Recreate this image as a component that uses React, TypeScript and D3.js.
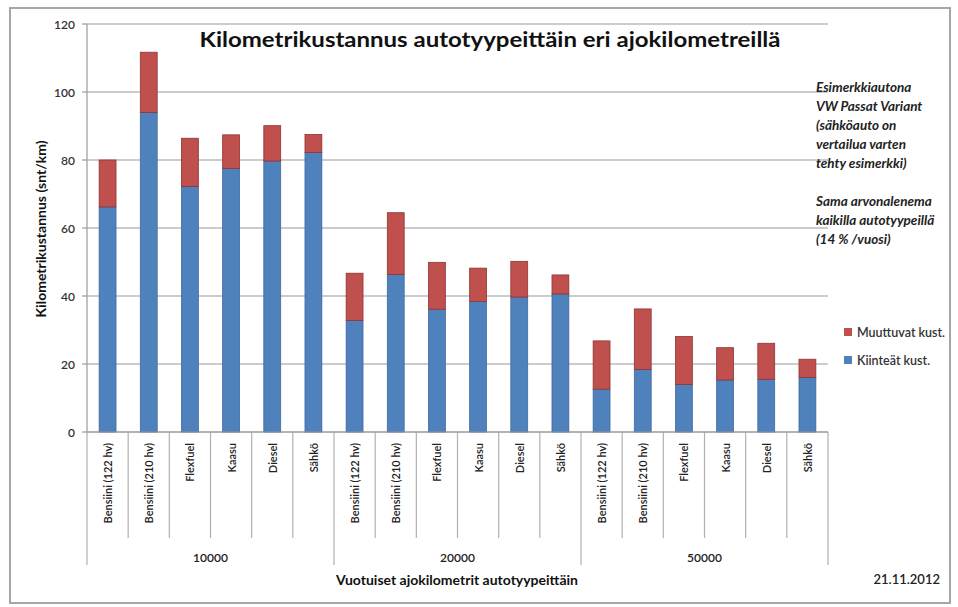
import React from "react";
import * as d3 from "d3";

const carTypes = ["Bensiini (122 hv)", "Bensiini (210 hv)", "Flexfuel", "Kaasu", "Diesel", "Sähkö"];
const groups = ["10000", "20000", "50000"];
// Kiinteät kust. (fixed costs), per group in car type order
const fixed10000 = [66.2, 94, 72.2, 77.5, 79.7, 82.2];
const fixed20000 = [32.8, 46.3, 36.1, 38.4, 39.7, 40.6];
const fixed50000 = [12.6, 18.4, 14.0, 15.3, 15.5, 16.0];
// Muuttuvat kust. (variable costs)
const var10000 = [13.8, 17.7, 14.2, 9.9, 10.4, 5.3];
const var20000 = [13.9, 18.2, 13.8, 9.8, 10.5, 5.6];
const var50000 = [14.2, 17.8, 14.1, 9.5, 10.6, 5.4];
const yTicks = [0, 20, 40, 60, 80, 100, 120];
const seriesNames = ["Muuttuvat kust.", "Kiinteät kust."];
const noteLines1 = ["Esimerkkiautona", "VW Passat Variant", "(sähköauto on", "vertailua varten", "tehty esimerkki)"];
const noteLines2 = ["Sama arvonalenema", "kaikilla autotyypeillä", "(14 % /vuosi)"];
const title = "Kilometrikustannus autotyypeittäin eri ajokilometreillä";
const yTitle = "Kilometrikustannus (snt/km)";
const xTitle = "Vuotuiset ajokilometrit autotyypeittäin";
const dateText = "21.11.2012";

const BLUE = "#4F81BD";
const RED = "#C0504D";
const FONT = "Lato, 'Open Sans', sans-serif";

export default function App() {
  const W = 958, H = 607;
  const left = 87, right = 828, top = 24, bottom = 432;
  const fixedAll = [fixed10000, fixed20000, fixed50000];
  const varAll = [var10000, var20000, var50000];
  const rows = groups.flatMap((g, gi) =>
    carTypes.map((c, ci) => ({ key: `${g}-${ci}`, group: g, cat: c, fixed: fixedAll[gi][ci], variable: varAll[gi][ci] }))
  );
  const x = d3.scaleBand<string>().domain(rows.map(r => r.key)).range([left, right]).paddingInner(0).paddingOuter(0);
  const y = d3.scaleLinear().domain([0, 120]).range([bottom, top]);
  const bw = x.bandwidth() * 0.41;
  const step = x.step();

  return (
    <svg width={W} height={H} style={{ position: "absolute", left: 0, top: 0, background: "#fff" }} fontFamily={FONT}>
      <rect x={10} y={8} width={940} height={595} fill="#fff" stroke="#a6a6a6" strokeWidth={2} />
      {/* gridlines */}
      {yTicks.map(t => (
        <g key={t}>
          <line x1={left} x2={right} y1={y(t)} y2={y(t)} stroke="#9a9a9a" strokeWidth={1.2} />
          <line x1={left - 5} x2={left} y1={y(t)} y2={y(t)} stroke="#9a9a9a" strokeWidth={1.2} />
          <text x={75} y={y(t)} textAnchor="end" dominantBaseline="central" fontSize={12} fontWeight={600} fill="#333">{t}</text>
        </g>
      ))}
      <line x1={left} x2={left} y1={top} y2={bottom} stroke="#9a9a9a" strokeWidth={1.2} />
      {/* bars */}
      {rows.map(r => {
        const cx = (x(r.key) as number) + step / 2;
        return (
          <g key={r.key}>
            <rect x={cx - bw / 2} y={y(r.fixed)} width={bw} height={y(0) - y(r.fixed)} fill={BLUE} stroke="#3c6aa0" strokeWidth={0.8} />
            <rect x={cx - bw / 2} y={y(r.fixed + r.variable)} width={bw} height={y(r.fixed) - y(r.fixed + r.variable)} fill={RED} stroke="#8f3431" strokeWidth={0.8} />
          </g>
        );
      })}
      {/* x axis category separators */}
      {rows.map((r, i) => {
        const xx = x(r.key) as number;
        const isGroup = i % carTypes.length === 0;
        return <line key={"s" + r.key} x1={xx} x2={xx} y1={bottom} y2={isGroup ? 565 : 538} stroke="#b0b0b0" strokeWidth={1.2} />;
      })}
      <line x1={right} x2={right} y1={bottom} y2={565} stroke="#b0b0b0" strokeWidth={1.2} />
      <line x1={left} x2={right} y1={bottom} y2={bottom} stroke="#9a9a9a" strokeWidth={1.2} />
      {rows.map(r => {
        const cx = (x(r.key) as number) + step / 2;
        return (
          <text key={"l" + r.key} transform={`translate(${cx},443) rotate(-90)`} textAnchor="end" dominantBaseline="central" fontSize={11} fontWeight={600} fill="#222">{r.cat}</text>
        );
      })}
      {groups.map((g, gi) => {
        const x0 = x(rows[gi * 6].key) as number;
        const x1 = (x(rows[gi * 6 + 5].key) as number) + step;
        return <text key={g} x={(x0 + x1) / 2} y={557} textAnchor="middle" dominantBaseline="central" fontSize={12} fontWeight={600} fill="#222">{g}</text>;
      })}
      {/* titles */}
      <text x={490} y={38} textAnchor="middle" dominantBaseline="central" fontSize={21} fontWeight="bold" fill="#111" textLength={581} lengthAdjust="spacingAndGlyphs">{title}</text>
      <text transform="translate(40,229) rotate(-90)" textAnchor="middle" dominantBaseline="central" fontSize={14} fontWeight="bold" fill="#111">{yTitle}</text>
      <text x={457} y={579} textAnchor="middle" dominantBaseline="central" fontSize={14} fontWeight="bold" fill="#111">{xTitle}</text>
      <text x={940} y={579} textAnchor="end" dominantBaseline="central" fontSize={13} fontWeight={600} fill="#222">{dateText}</text>
      {/* notes */}
      {noteLines1.map((t, i) => (
        <text key={t} x={816} y={87 + i * 19} dominantBaseline="central" fontSize={13.5} fontStyle="italic" fontWeight="bold" fill="#222">{t}</text>
      ))}
      {noteLines2.map((t, i) => (
        <text key={t} x={816} y={201 + i * 19} dominantBaseline="central" fontSize={13.5} fontStyle="italic" fontWeight="bold" fill="#222">{t}</text>
      ))}
      {/* legend */}
      {seriesNames.map((s, i) => (
        <g key={s}>
          <rect x={844} y={328 + i * 28} width={8} height={8} fill={i === 0 ? RED : BLUE} />
          <text x={857} y={332 + i * 28} dominantBaseline="central" fontSize={12.5} fontWeight={600} fill="#333">{s}</text>
        </g>
      ))}
    </svg>
  );
}
